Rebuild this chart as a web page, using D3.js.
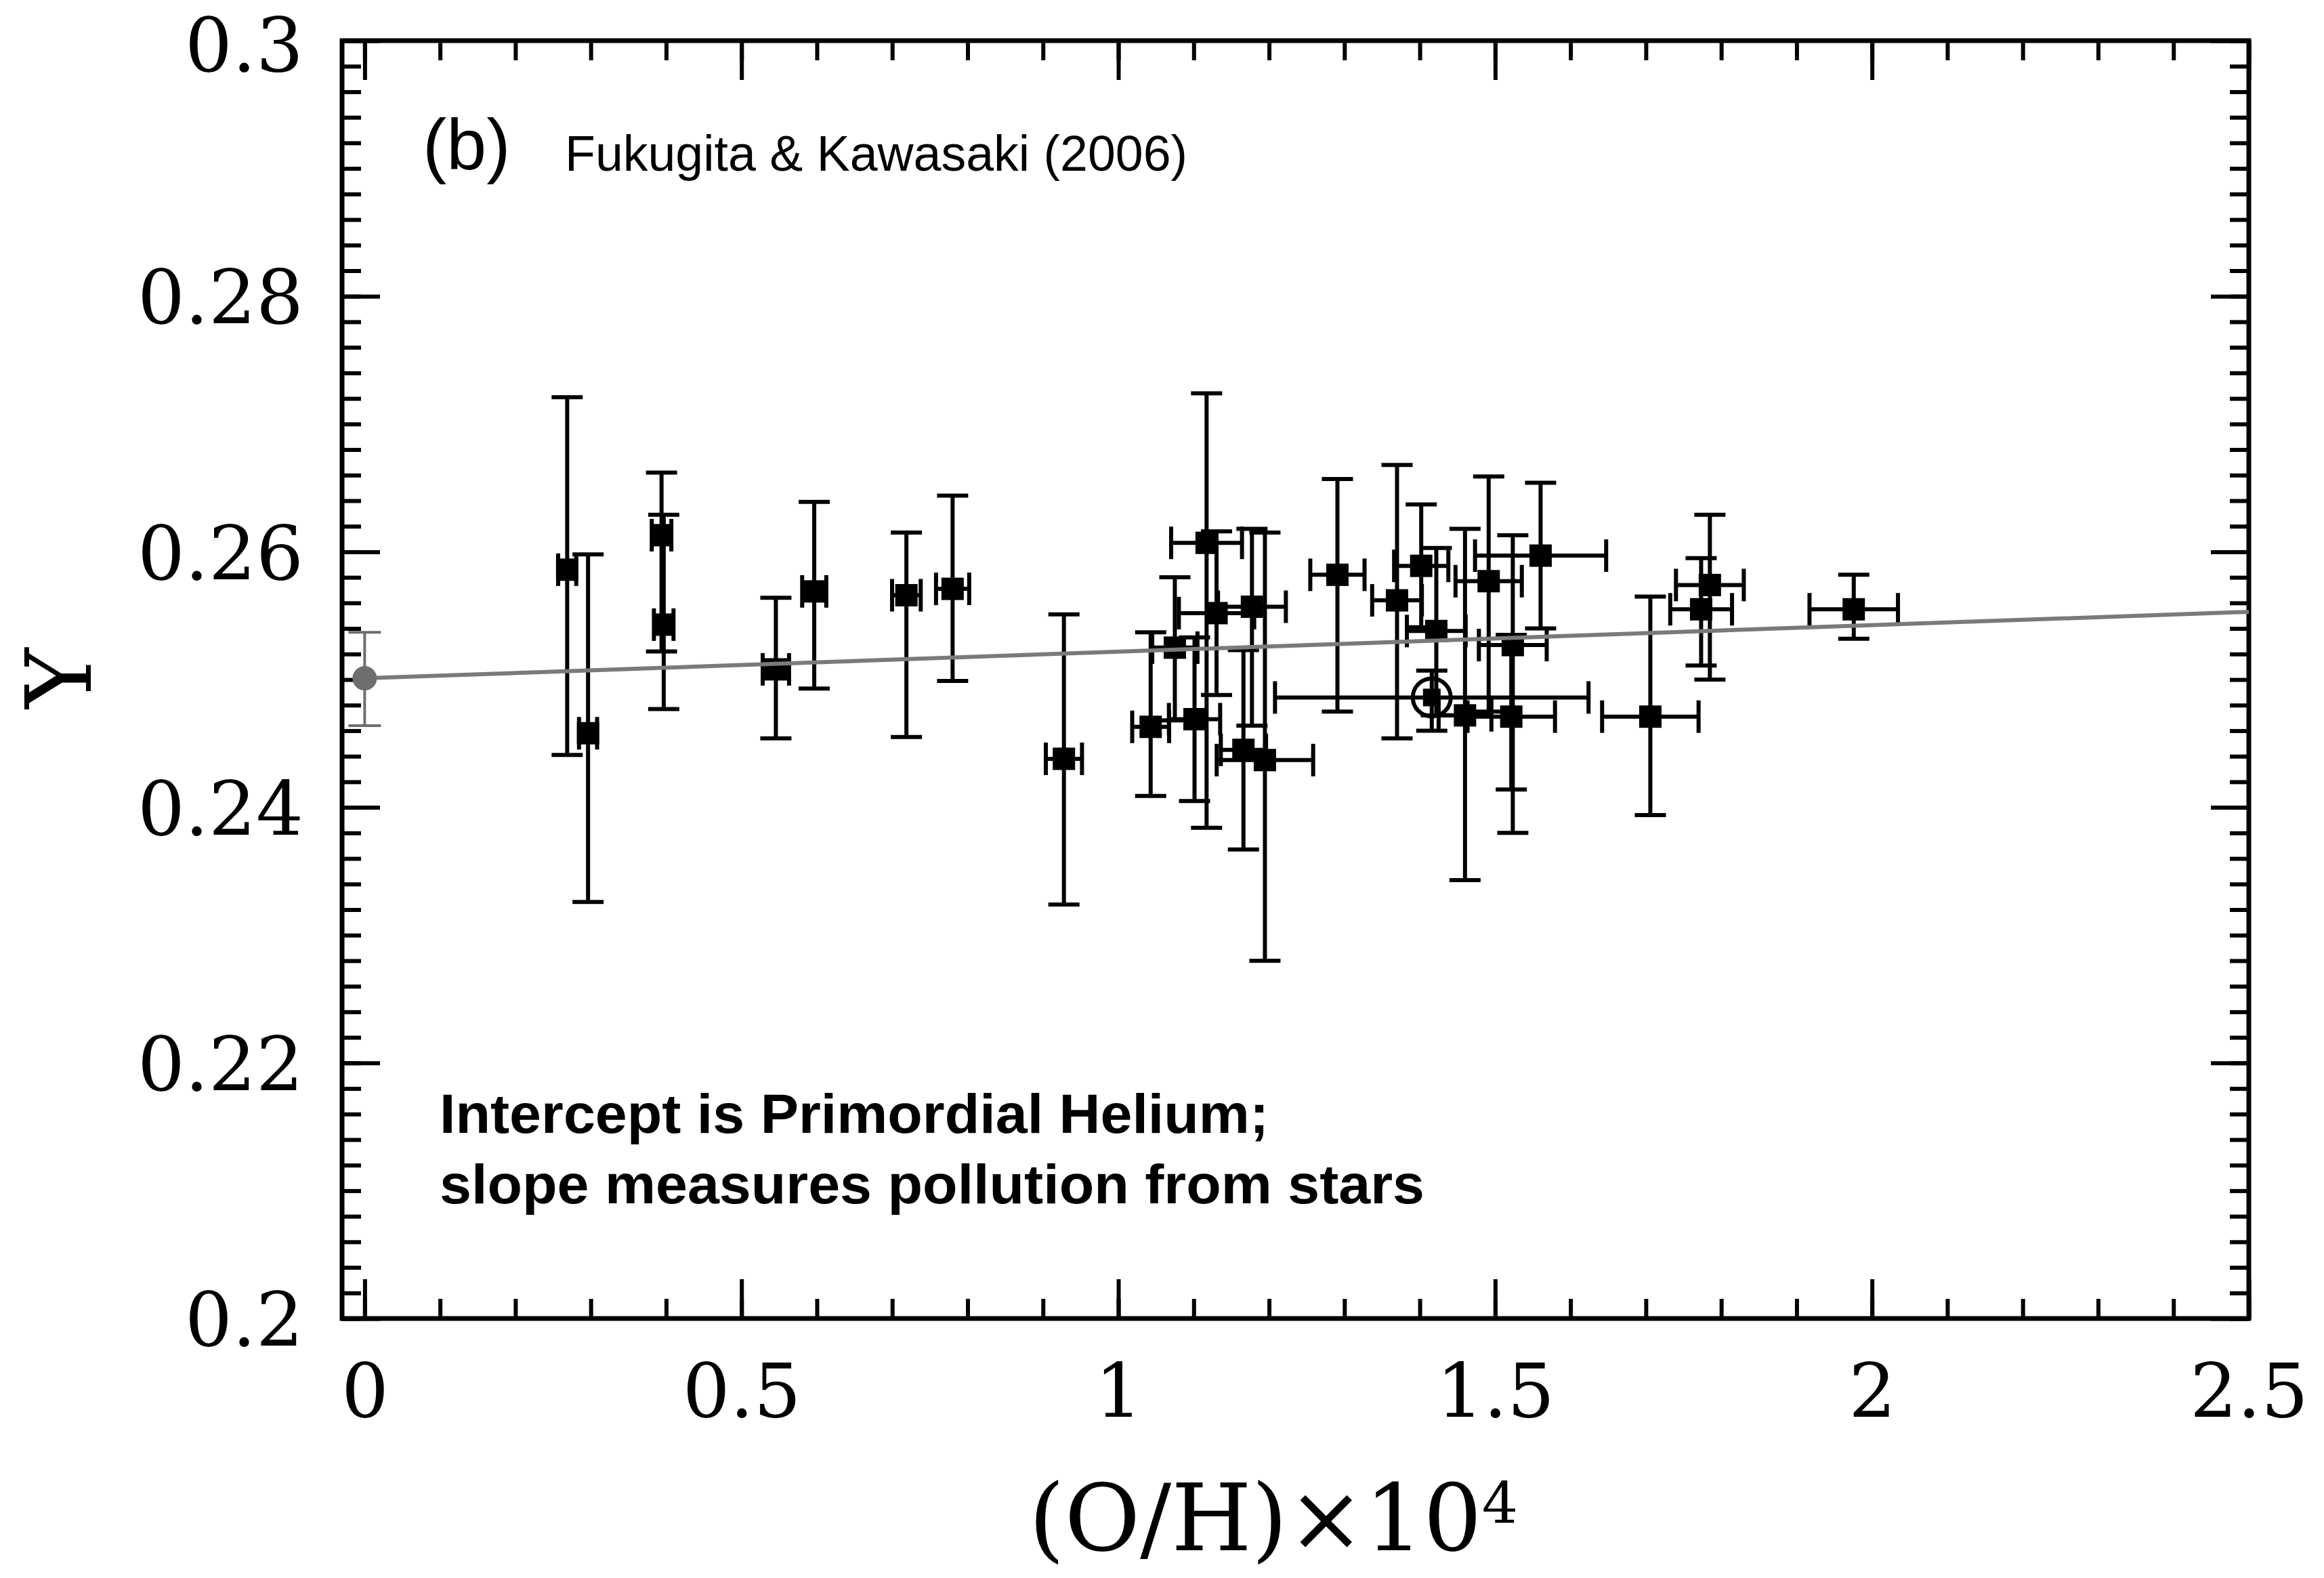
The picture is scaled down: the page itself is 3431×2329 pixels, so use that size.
<!DOCTYPE html>
<html>
<head>
<meta charset="utf-8">
<script src="https://cdn.jsdelivr.net/npm/d3@7"></script>
<style>
  html, body { margin: 0; padding: 0; background: #ffffff; }
  svg { display: block; }
</style>
</head>
<body>
<svg id="chart" width="3431" height="2329"></svg>
<script>
// ---------------- DATA ----------------
// (O/H)x10^4 of each HII region
const ohValues  = [0.2687, 0.2964, 0.3939, 0.3968, 0.5456, 0.5965, 0.7188, 0.7801,
                   0.9278, 1.0429, 1.0750, 1.1011, 1.1171, 1.1303, 1.1773, 1.1660,
                   1.1945, 1.2907, 1.3698, 1.4019, 1.4219, 1.4159, 1.4600, 1.4914,
                   1.5214, 1.5234, 1.5603, 1.7059, 1.7733, 1.7849, 1.9758];
// half-width of the horizontal error bars
const ohErrors  = [0.012, 0.012, 0.013, 0.013, 0.0175, 0.016, 0.019, 0.022,
                   0.024, 0.0245, 0.030, 0.034, 0.047, 0.050, 0.045, 0.030,
                   0.064, 0.036, 0.033, 0.036, 0.039, 0.208, 0.035, 0.044,
                   0.058, 0.045, 0.087, 0.064, 0.041, 0.045, 0.0587];
// helium mass fraction Y
const yValues   = [0.2586, 0.2458, 0.2613, 0.2543, 0.2508, 0.2569, 0.2566, 0.2571,
                   0.2438, 0.2463, 0.2525, 0.2469, 0.2607, 0.2552, 0.2557, 0.2445,
                   0.2437, 0.2582, 0.2562, 0.2589, 0.2538, 0.2486, 0.2472, 0.2577,
                   0.2471, 0.2527, 0.2597, 0.2471, 0.2555, 0.2574, 0.2555];
// lower / upper ends of the vertical error bars
const yLows     = [0.2441, 0.2326, 0.2522, 0.2477, 0.2454, 0.2493, 0.2455, 0.2499,
                   0.2324, 0.2409, 0.2468, 0.2405, 0.2384, 0.2488, 0.2464, 0.2367,
                   0.2280, 0.2475, 0.2454, 0.2541, 0.2472, 0.2460, 0.2343, 0.2475,
                   0.2414, 0.2380, 0.2540, 0.2394, 0.2511, 0.2500, 0.2532];
const yHighs    = [0.2721, 0.2598, 0.2662, 0.2629, 0.2564, 0.2639, 0.2615, 0.2644,
                   0.2551, 0.2537, 0.2580, 0.2533, 0.2724, 0.2616, 0.2618, 0.2523,
                   0.2615, 0.2657, 0.2668, 0.2637, 0.2603, 0.2507, 0.2618, 0.2659,
                   0.2535, 0.2613, 0.2654, 0.2565, 0.2595, 0.2629, 0.2582];
// points drawn with an extra ring
const circled   = [21];

// primordial intercept and linear fit
const primordialX = 0;
const primordialY = 0.2501;
const primordialLow = 0.2464;
const primordialHigh = 0.2537;
const fitX = [0, 2.5];
const fitY = [0.2501, 0.2553];

// axes
const xMajorTicks = [0, 0.5, 1, 1.5, 2, 2.5];
const xTickLabels = ["0", "0.5", "1", "1.5", "2", "2.5"];
const yMajorTicks = [0.2, 0.22, 0.24, 0.26, 0.28, 0.3];
const yTickLabels = ["0.2", "0.22", "0.24", "0.26", "0.28", "0.3"];
const xMinorStep = 0.1;
const yMinorStep = 0.002;

const xTitle = "(O/H)×10";
const xTitleSup = "4";
const yTitle = "Y";
const panelLabel = "(b)";
const sourceLabel = "Fukugita & Kawasaki (2006)";
const noteLines = ["Intercept is Primordial Helium;", "slope measures pollution from stars"];

// ---------------- DRAWING ----------------
const svg = d3.select("#chart");
svg.append("rect").attr("width", 3431).attr("height", 2329).attr("fill", "#ffffff");

const L = 505, R = 3320, T = 60, B = 1946;
const x = d3.scaleLinear().domain([-0.03, 2.5]).range([L, R]);
const y = d3.scaleLinear().domain([0.2, 0.3]).range([B, T]);

const xMinor = d3.range(0, 2.5 + 1e-9, xMinorStep).map(v => +v.toFixed(3));
const yMinor = d3.range(0.2, 0.3 + 1e-9, yMinorStep).map(v => +v.toFixed(4));

const serif = "'DejaVu Serif', 'Liberation Serif', serif";
const sans = "'Liberation Sans', Arial, Helvetica, sans-serif";

function styleAxis(g) {
  g.select(".domain").remove();
  g.selectAll(".tick line").attr("stroke", "#000").attr("stroke-width", 6);
}

// bottom
svg.append("g").attr("transform", `translate(0,${B})`)
  .call(d3.axisBottom(x).tickValues(xMinor).tickSize(-29).tickFormat(""))
  .call(styleAxis);
svg.append("g").attr("transform", `translate(0,${B})`)
  .call(d3.axisBottom(x).tickValues(xMajorTicks).tickSize(-58).tickPadding(145)
        .tickFormat((d, i) => xTickLabels[i]))
  .call(styleAxis)
  .call(g => g.selectAll("text").attr("dy", null).attr("fill", "#000")
               .style("font-family", serif).style("font-size", "110px"));
// top
svg.append("g").attr("transform", `translate(0,${T})`)
  .call(d3.axisTop(x).tickValues(xMinor).tickSize(-29).tickFormat(""))
  .call(styleAxis);
svg.append("g").attr("transform", `translate(0,${T})`)
  .call(d3.axisTop(x).tickValues(xMajorTicks).tickSize(-58).tickFormat(""))
  .call(styleAxis);
// left
svg.append("g").attr("transform", `translate(${L},0)`)
  .call(d3.axisLeft(y).tickValues(yMinor).tickSize(-28).tickFormat(""))
  .call(styleAxis);
svg.append("g").attr("transform", `translate(${L},0)`)
  .call(d3.axisLeft(y).tickValues(yMajorTicks).tickSize(-56).tickPadding(57)
        .tickFormat((d, i) => yTickLabels[i]))
  .call(styleAxis)
  .call(g => g.selectAll("text").attr("dy", "0.36em").attr("fill", "#000")
               .style("font-family", serif).style("font-size", "110px"))
  .call(g => g.selectAll(".tick").filter(d => d === 0.3).select("text").attr("y", 5));
// right
svg.append("g").attr("transform", `translate(${R},0)`)
  .call(d3.axisRight(y).tickValues(yMinor).tickSize(-28).tickFormat(""))
  .call(styleAxis);
svg.append("g").attr("transform", `translate(${R},0)`)
  .call(d3.axisRight(y).tickValues(yMajorTicks).tickSize(-56).tickFormat(""))
  .call(styleAxis);

// frame
svg.append("rect").attr("x", L).attr("y", T).attr("width", R - L).attr("height", B - T)
  .attr("fill", "none").attr("stroke", "#000").attr("stroke-width", 7);

// data
const points = ohValues.map((v, i) => ({
  x: v, xe: ohErrors[i], y: yValues[i], lo: yLows[i], hi: yHighs[i], ring: circled.includes(i)
}));

const capW = 23, capH = 24, sq = 33, lw = 6;
const gErr = svg.append("g").attr("stroke", "#000").attr("stroke-width", lw).attr("fill", "none");
points.forEach(p => {
  const cx = x(p.x), cy = y(p.y);
  gErr.append("line").attr("x1", cx).attr("x2", cx).attr("y1", y(p.lo)).attr("y2", y(p.hi));
  gErr.append("line").attr("x1", cx - capW).attr("x2", cx + capW).attr("y1", y(p.lo)).attr("y2", y(p.lo));
  gErr.append("line").attr("x1", cx - capW).attr("x2", cx + capW).attr("y1", y(p.hi)).attr("y2", y(p.hi));
  gErr.append("line").attr("x1", x(p.x - p.xe)).attr("x2", x(p.x + p.xe)).attr("y1", cy).attr("y2", cy);
  gErr.append("line").attr("x1", x(p.x - p.xe)).attr("x2", x(p.x - p.xe)).attr("y1", cy - capH).attr("y2", cy + capH);
  gErr.append("line").attr("x1", x(p.x + p.xe)).attr("x2", x(p.x + p.xe)).attr("y1", cy - capH).attr("y2", cy + capH);
});
svg.append("g").selectAll("rect").data(points).join("rect")
  .attr("x", d => x(d.x) - (d.ring ? 13 : sq / 2))
  .attr("y", d => y(d.y) - (d.ring ? 13 : sq / 2))
  .attr("width", d => d.ring ? 26 : sq)
  .attr("height", d => d.ring ? 26 : sq)
  .attr("fill", "#000");
svg.append("g").selectAll("circle").data(points.filter(d => d.ring)).join("circle")
  .attr("cx", d => x(d.x)).attr("cy", d => y(d.y)).attr("r", 28)
  .attr("fill", "none").attr("stroke", "#000").attr("stroke-width", 6);

// fit line
svg.append("path")
  .datum(fitX.map((v, i) => [v, fitY[i]]))
  .attr("d", d3.line().x(d => x(d[0])).y(d => y(d[1])))
  .attr("stroke", "#7a7a7a").attr("stroke-width", 6).attr("fill", "none");

// primordial point
const gp = svg.append("g").attr("stroke", "#6e6e6e").attr("stroke-width", 4);
gp.append("line").attr("x1", x(primordialX)).attr("x2", x(primordialX))
  .attr("y1", y(primordialLow)).attr("y2", y(primordialHigh));
gp.append("line").attr("x1", x(primordialX) - 24).attr("x2", x(primordialX) + 24)
  .attr("y1", y(primordialLow)).attr("y2", y(primordialLow));
gp.append("line").attr("x1", x(primordialX) - 24).attr("x2", x(primordialX) + 24)
  .attr("y1", y(primordialHigh)).attr("y2", y(primordialHigh));
svg.append("circle").attr("cx", x(primordialX)).attr("cy", y(primordialY)).attr("r", 18)
  .attr("fill", "#6e6e6e");

// axis titles
svg.append("text").attr("x", 1880).attr("y", 2288).attr("text-anchor", "middle")
  .style("font-family", serif).style("font-size", "136px").attr("fill", "#000")
  .call(t => {
    t.append("tspan").text(xTitle);
    t.append("tspan").attr("dy", -40).style("font-size", "84px").text(xTitleSup);
  });
svg.append("text").attr("transform", "translate(134,1001) rotate(-90)")
  .attr("text-anchor", "middle").style("font-family", serif).style("font-size", "135px")
  .attr("fill", "#000").text(yTitle);

// annotations
svg.append("text").attr("x", 624).attr("y", 250).style("font-family", sans)
  .style("font-size", "106px").attr("fill", "#000").text(panelLabel);
svg.append("text").attr("x", 834).attr("y", 252).style("font-family", sans)
  .style("font-size", "74px").attr("fill", "#000")
  .attr("textLength", 919).attr("lengthAdjust", "spacingAndGlyphs").text(sourceLabel);
const noteLens = [1224, 1454];
noteLines.forEach((s, i) => {
  svg.append("text").attr("x", 649).attr("y", 1672 + i * 104).style("font-family", sans)
    .style("font-size", "82px").style("font-weight", "bold").attr("fill", "#000")
    .attr("textLength", noteLens[i]).attr("lengthAdjust", "spacingAndGlyphs").text(s);
});
</script>
</body>
</html>
